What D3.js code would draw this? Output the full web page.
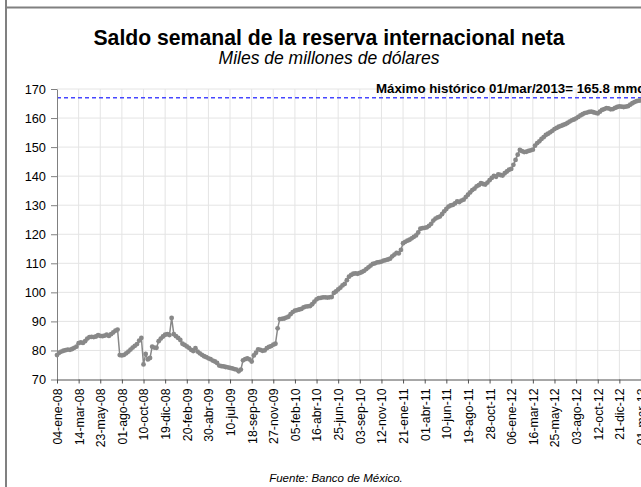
<!DOCTYPE html>
<html>
<head>
<meta charset="utf-8">
<script src="https://cdn.jsdelivr.net/npm/d3@7"></script>
<style>
  body { margin: 0; background: #fff; }
  text { font-family: Arial, "Liberation Sans", sans-serif; }
  .grid line { stroke: #e4e4e4; stroke-width: 1; }
</style>
</head>
<body>
<div class="chart"></div>
<script>
// chart data: weekly reserve (bn USD), one value per week from 04-ene-08 to 01-mar-13
var titleText = 'Saldo semanal de la reserva internacional neta'
var subtitleText = 'Miles de millones de dólares'
var sourceText = 'Fuente: Banco de México.'
var maxText = 'Máximo histórico 01/mar/2013= 165.8 mmd'
var maxLineValue = 167

var tickLabels = ['04-ene-08', '14-mar-08', '23-may-08', '01-ago-08', '10-oct-08', '19-dic-08',
  '20-feb-09', '30-abr-09', '10-jul-09', '18-sep-09', '27-nov-09', '05-feb-10', '16-abr-10',
  '25-jun-10', '03-sep-10', '12-nov-10', '21-ene-11', '01-abr-11', '10-jun-11', '19-ago-11',
  '28-oct-11', '06-ene-12', '16-mar-12', '25-may-12', '03-ago-12', '12-oct-12', '21-dic-12',
  '01-mar-13']
var tickEvery = 10

var yTicks = [70, 80, 90, 100, 110, 120, 130, 140, 150, 160, 170]

var reserva = [
  78.4, 79.2, 79.6, 79.9, 80.1, 80.3, 80.2, 80.5, 80.9, 81.3,
  82.5, 82.8, 82.6, 83.2, 84.1, 84.6, 84.7, 84.6, 84.8, 85.3,
  85.0, 84.9, 85.1, 85.4, 85.0, 85.6, 86.2, 86.8, 87.2, 78.4,
  78.3, 78.5, 79.0, 79.6, 80.3, 81.0, 81.6, 82.2, 83.4, 84.3,
  75.2, 78.8, 76.9, 77.4, 81.3, 81.0, 80.9, 83.2, 84.1, 84.8,
  85.4, 85.6, 85.3, 91.2, 85.6, 84.9, 84.3, 83.6, 82.3, 81.9,
  81.4, 80.9, 80.2, 79.8, 80.8, 79.6, 79.0, 78.5, 78.0, 77.7,
  77.3, 77.0, 76.5, 76.2, 75.7, 74.8, 74.6, 74.5, 74.3, 74.2,
  74.0, 73.8, 73.6, 73.4, 72.8, 73.4, 76.6, 77.0, 77.3, 76.9,
  76.2, 78.3, 79.2, 80.4, 80.2, 79.9, 80.0, 80.8, 81.2, 81.5,
  82.0, 82.3, 87.6, 90.8, 90.9, 91.0, 91.3, 91.6, 92.5, 93.2,
  93.7, 93.9, 94.1, 94.3, 94.8, 95.1, 95.2, 95.3, 95.9, 96.8,
  97.6, 98.0, 98.1, 98.3, 98.3, 98.2, 98.3, 98.4, 99.8, 100.3,
  101.0, 101.6, 102.4, 102.9, 104.2, 105.4, 106.0, 106.4, 106.5, 106.4,
  106.7, 107.0, 107.4, 108.0, 108.6, 109.2, 109.8, 110.0, 110.3, 110.4,
  110.6, 110.9, 111.1, 111.3, 111.6, 112.4, 113.0, 113.6, 113.4, 114.6,
  116.9, 117.4, 117.8, 118.1, 118.6, 119.1, 119.6, 120.6, 121.9, 122.1,
  122.2, 122.4, 122.9, 123.6, 124.7, 125.4, 125.8, 126.1, 126.9, 127.9,
  128.7, 129.5, 129.9, 130.1, 130.6, 131.3, 131.1, 131.6, 131.9, 132.8,
  133.6, 134.4, 135.2, 135.7, 136.5, 136.9, 137.6, 137.3, 137.1, 137.8,
  138.6, 139.4, 140.1, 139.8, 140.6, 140.4, 140.2, 141.0, 141.6, 142.2,
  142.5, 143.9, 145.6, 147.4, 149.0, 148.6, 148.3, 148.4, 148.7, 148.9,
  149.1, 150.5, 151.4, 152.0, 152.8, 153.4, 154.2, 154.6, 155.1, 155.6,
  156.2, 156.6, 157.0, 157.3, 157.6, 157.9, 158.3, 158.8, 159.2, 159.5,
  159.9, 160.4, 160.9, 161.3, 161.7, 161.9, 162.1, 162.2, 162.0, 161.8,
  161.6, 162.2, 162.8, 163.1, 163.4, 163.3, 163.0, 163.1, 163.5, 163.8,
  164.0, 163.9, 163.8, 163.9, 164.1, 164.6, 165.1, 165.5, 165.8, 166.0,
  166.1
]

var W = 641, H = 487
var plot = {left: 57, top: 89, bottom: 379.5, right: 641}

var svg = d3.select('.chart').append('svg')
    .attr('width', W)
    .attr('height', H)

// outer frame lines
svg.append('line').attr('x1', 6).attr('x2', 6).attr('y1', 0).attr('y2', H)
    .attr('stroke', '#808080').attr('stroke-width', 2)
svg.append('line').attr('x1', 6).attr('x2', W).attr('y1', 7.5).attr('y2', 7.5)
    .attr('stroke', '#808080').attr('stroke-width', 2)

var x = d3.scaleLinear()
    .domain([0, 270])
    .range([plot.left, plot.right])
var y = d3.scaleLinear()
    .domain([70, 170])
    .range([plot.bottom, plot.top])

var xTickValues = tickLabels.map(function(d, i) { return i * tickEvery })

// gridlines
svg.append('g').attr('class', 'grid')
  .selectAll('line.h').data(yTicks.slice(1)).enter().append('line')
    .attr('x1', plot.left).attr('x2', W)
    .attr('y1', function(d) { return y(d) }).attr('y2', function(d) { return y(d) })
svg.append('g').attr('class', 'grid')
  .selectAll('line.v').data(xTickValues.slice(1)).enter().append('line')
    .attr('x1', function(d) { return x(d) }).attr('x2', function(d) { return x(d) })
    .attr('y1', plot.top).attr('y2', plot.bottom)

// max reference line
var maxY = y(maxLineValue)
svg.append('line')
    .attr('x1', plot.left).attr('x2', W)
    .attr('y1', maxY).attr('y2', maxY)
    .style('stroke', 'rgb(70, 70, 255)')
    .style('stroke-width', '1.6px')
    .style('stroke-dasharray', '4 3')

svg.append('text')
    .attr('x', 376).attr('y', maxY - 5)
    .style('font-size', '13.3px').style('font-weight', 'bold')
    .text(maxText)

// y axis
var yAxis = svg.append('g')
    .attr('transform', 'translate(' + plot.left + ',0)')
    .call(d3.axisLeft(y).tickValues(yTicks).tickSize(6).tickSizeOuter(0))
yAxis.select('.domain').attr('stroke', '#808080')
yAxis.selectAll('.tick line').attr('stroke', '#808080')
yAxis.selectAll('.tick text')
    .attr('x', -11)
    .style('font-size', '12.8px')
    .style('font-family', 'Arial, "Liberation Sans", sans-serif')
    .attr('fill', '#000')

// x axis
var xAxis = svg.append('g')
    .attr('transform', 'translate(0,' + plot.bottom + ')')
    .call(d3.axisBottom(x).tickValues(xTickValues)
        .tickFormat(function(d, i) { return tickLabels[i] })
        .tickSize(4).tickSizeOuter(0))
xAxis.select('.domain').attr('stroke', '#505050')
xAxis.selectAll('.tick line').attr('stroke', '#505050')
xAxis.selectAll('.tick text')
    .attr('transform', 'rotate(-90)')
    .attr('x', -9).attr('y', 0).attr('dy', '0.36em')
    .style('text-anchor', 'end')
    .style('font-size', '12.3px')
    .style('font-family', 'Arial, "Liberation Sans", sans-serif')
    .attr('fill', '#000')

// series line and markers
svg.append('path')
    .datum(reserva)
    .attr('fill', 'none')
    .attr('stroke', '#888')
    .attr('stroke-width', 1.5)
    .attr('d', d3.line()
        .x(function(d, i) { return x(i) })
        .y(function(d) { return y(d) }))

svg.append('g').selectAll('circle')
    .data(reserva).enter().append('circle')
    .attr('cx', function(d, i) { return x(i) })
    .attr('cy', function(d) { return y(d) })
    .attr('r', 2.4)
    .attr('fill', '#888')

// titles
svg.append('text')
    .attr('x', 329).attr('y', 45)
    .attr('text-anchor', 'middle')
    .style('font-size', '21.2px').style('font-weight', 'bold')
    .text(titleText)
svg.append('text')
    .attr('x', 329).attr('y', 64)
    .attr('text-anchor', 'middle')
    .style('font-size', '17.5px').style('font-style', 'italic')
    .text(subtitleText)
svg.append('text')
    .attr('x', 336).attr('y', 482)
    .attr('text-anchor', 'middle')
    .style('font-size', '11.5px').style('font-style', 'italic')
    .text(sourceText)
</script>
</body>
</html>
